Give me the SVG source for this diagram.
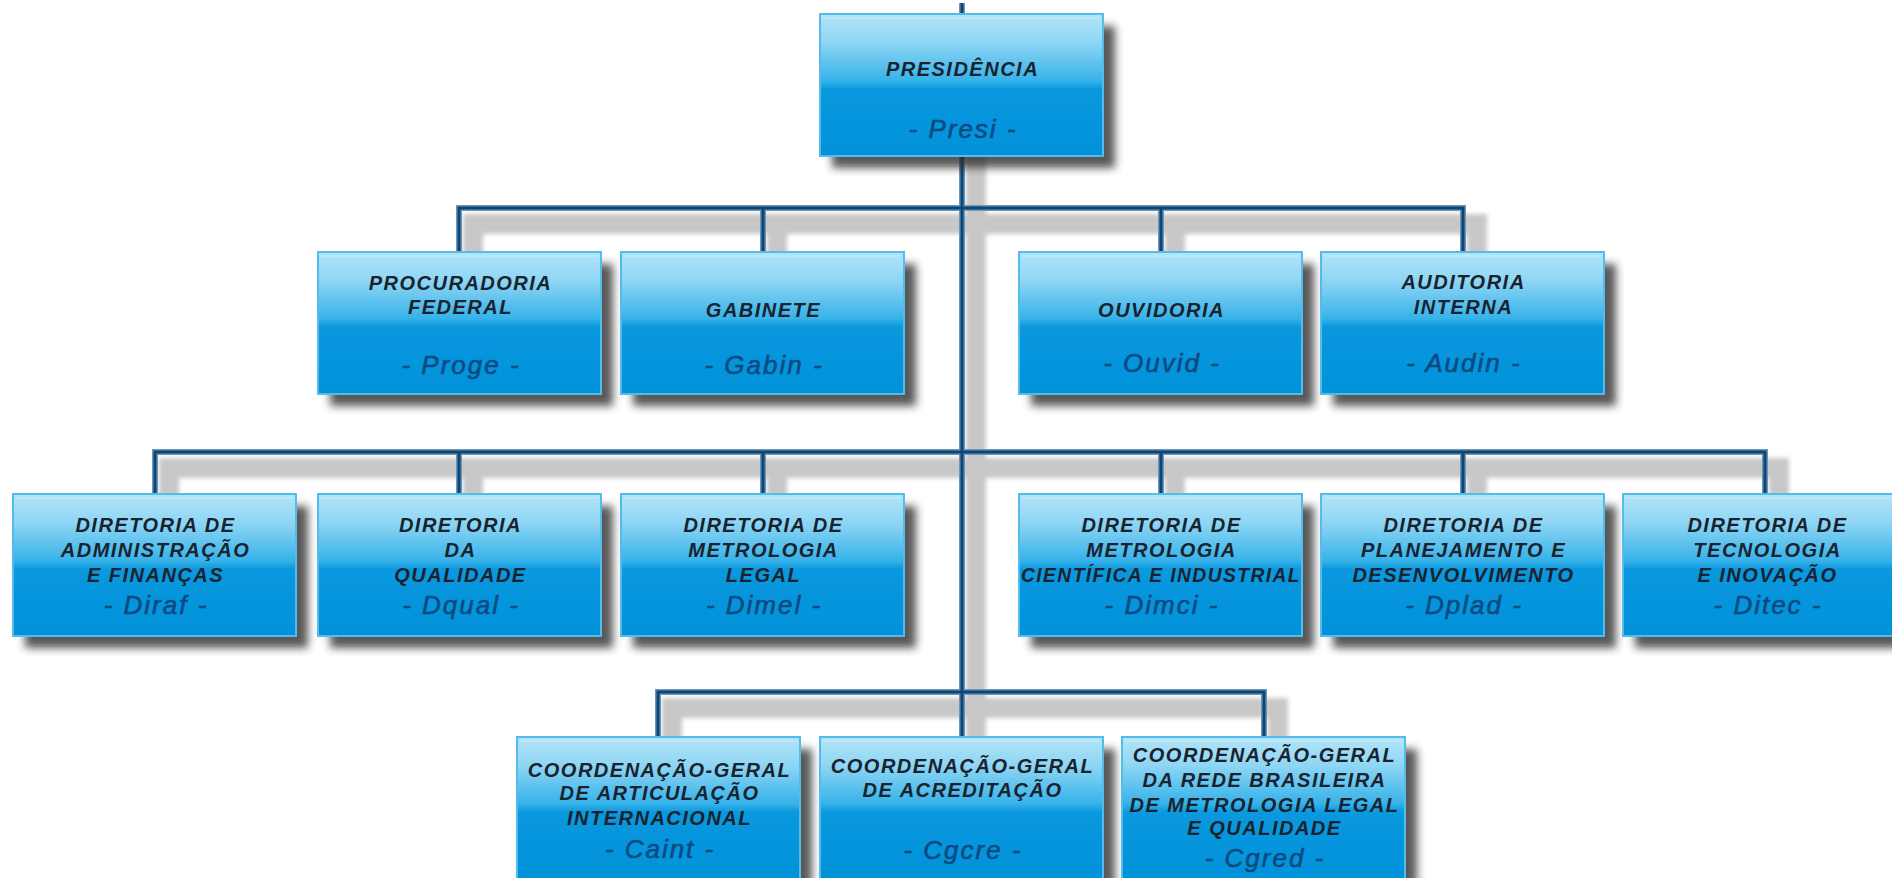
<svg xmlns="http://www.w3.org/2000/svg" width="1892" height="878" viewBox="0 0 1892 878">
<style>
.box{fill:url(#boxg);stroke:#55bbea;stroke-width:2}
.hl{fill:none;stroke:#c9ecfa;stroke-width:1.5;opacity:.8}
.shd{fill:#2e2e2e;opacity:.8;filter:url(#blur)}
.lbl{font-family:"Liberation Sans",Arial,sans-serif;font-size:20px;font-weight:bold;font-style:italic;fill:#18232f;letter-spacing:1.5px;text-anchor:middle}
.sub{font-family:"Liberation Sans",Arial,sans-serif;font-size:26px;font-style:italic;fill:#0b4a82;stroke:#0b4a82;stroke-width:0.6;letter-spacing:2px;text-anchor:middle}
.lsh{fill:none;stroke:#c8c8c8;stroke-width:20;filter:url(#lblur)}
.lout{fill:none;stroke:#6f94b4;stroke-width:6}
.lin{fill:none;stroke:#0a4677;stroke-width:3}
</style>
<defs>
<linearGradient id="boxg" x1="0" y1="0" x2="0" y2="1">
<stop offset="0" stop-color="#b2e5f9"/>
<stop offset="0.2" stop-color="#8fd6f4"/>
<stop offset="0.47" stop-color="#36b2e9"/>
<stop offset="0.53" stop-color="#0a98de"/>
<stop offset="1" stop-color="#0092da"/>
</linearGradient>
<filter id="blur" x="-10%" y="-10%" width="120%" height="130%"><feGaussianBlur stdDeviation="4.5"/></filter>
<filter id="lblur" x="-5%" y="-5%" width="110%" height="110%"><feGaussianBlur stdDeviation="2"/></filter>
</defs>
<rect width="1892" height="878" fill="#ffffff"/>

<g id="connectors">
<path class="lsh" transform="translate(14,16)" d="M962 3V737 M459 252V208H1463V252 M763 208V252 M1161 208V252 M155 494V452H1765V494 M459 452V494 M763 452V494 M1161 452V494 M1463 452V494 M658 737V692H1264V737"/>
<path class="lout" d="M962 3V737 M459 252V208H1463V252 M763 208V252 M1161 208V252 M155 494V452H1765V494 M459 452V494 M763 452V494 M1161 452V494 M1463 452V494 M658 737V692H1264V737"/>
<path class="lin" d="M962 3V737 M459 252V208H1463V252 M763 208V252 M1161 208V252 M155 494V452H1765V494 M459 452V494 M763 452V494 M1161 452V494 M1463 452V494 M658 737V692H1264V737"/>
</g>

<g id="presi">
<rect class="shd" x="832" y="26" width="283" height="142"/>
<rect class="box" x="820" y="14" width="283" height="142"/>
<line class="hl" x1="823" y1="18" x2="1100" y2="18"/>
<text class="lbl" x="962.5" y="76">PRESIDÊNCIA</text>
<text class="sub" x="963" y="137.5">- Presi -</text>
</g>

<g id="proge">
<rect class="shd" x="330" y="264" width="283" height="142"/>
<rect class="box" x="318" y="252" width="283" height="142"/>
<line class="hl" x1="321" y1="256" x2="598" y2="256"/>
<text class="lbl" x="460.5" y="290">PROCURADORIA</text>
<text class="lbl" x="460.5" y="314">FEDERAL</text>
<text class="sub" x="461" y="373.5">- Proge -</text>
</g>

<g id="gabin">
<rect class="shd" x="633" y="264" width="283" height="142"/>
<rect class="box" x="621" y="252" width="283" height="142"/>
<line class="hl" x1="624" y1="256" x2="901" y2="256"/>
<text class="lbl" x="763.5" y="317">GABINETE</text>
<text class="sub" x="764" y="373.5">- Gabin -</text>
</g>

<g id="ouvid">
<rect class="shd" x="1031" y="264" width="283" height="142"/>
<rect class="box" x="1019" y="252" width="283" height="142"/>
<line class="hl" x1="1022" y1="256" x2="1299" y2="256"/>
<text class="lbl" x="1161.5" y="317">OUVIDORIA</text>
<text class="sub" x="1162" y="372">- Ouvid -</text>
</g>

<g id="audin">
<rect class="shd" x="1333" y="264" width="283" height="142"/>
<rect class="box" x="1321" y="252" width="283" height="142"/>
<line class="hl" x1="1324" y1="256" x2="1601" y2="256"/>
<text class="lbl" x="1463.5" y="289">AUDITORIA</text>
<text class="lbl" x="1463.5" y="314">INTERNA</text>
<text class="sub" x="1464" y="372">- Audin -</text>
</g>

<g id="diraf">
<rect class="shd" x="25" y="506" width="283" height="142"/>
<rect class="box" x="13" y="494" width="283" height="142"/>
<line class="hl" x1="16" y1="498" x2="293" y2="498"/>
<text class="lbl" x="155.5" y="532">DIRETORIA DE</text>
<text class="lbl" x="155.5" y="557">ADMINISTRAÇÃO</text>
<text class="lbl" x="155.5" y="582">E FINANÇAS</text>
<text class="sub" x="156" y="614">- Diraf -</text>
</g>

<g id="dqual">
<rect class="shd" x="330" y="506" width="283" height="142"/>
<rect class="box" x="318" y="494" width="283" height="142"/>
<line class="hl" x1="321" y1="498" x2="598" y2="498"/>
<text class="lbl" x="460.5" y="532">DIRETORIA</text>
<text class="lbl" x="460.5" y="557">DA</text>
<text class="lbl" x="460.5" y="582">QUALIDADE</text>
<text class="sub" x="461" y="614">- Dqual -</text>
</g>

<g id="dimel">
<rect class="shd" x="633" y="506" width="283" height="142"/>
<rect class="box" x="621" y="494" width="283" height="142"/>
<line class="hl" x1="624" y1="498" x2="901" y2="498"/>
<text class="lbl" x="763.5" y="532">DIRETORIA DE</text>
<text class="lbl" x="763.5" y="557">METROLOGIA</text>
<text class="lbl" x="763.5" y="582">LEGAL</text>
<text class="sub" x="764" y="614">- Dimel -</text>
</g>

<g id="dimci">
<rect class="shd" x="1031" y="506" width="283" height="142"/>
<rect class="box" x="1019" y="494" width="283" height="142"/>
<line class="hl" x1="1022" y1="498" x2="1299" y2="498"/>
<text class="lbl" x="1161.5" y="532">DIRETORIA DE</text>
<text class="lbl" x="1161.5" y="557">METROLOGIA</text>
<text class="lbl" x="1161" y="582" textLength="280" lengthAdjust="spacingAndGlyphs">CIENTÍFICA E INDUSTRIAL</text>
<text class="sub" x="1162" y="614">- Dimci -</text>
</g>

<g id="dplad">
<rect class="shd" x="1333" y="506" width="283" height="142"/>
<rect class="box" x="1321" y="494" width="283" height="142"/>
<line class="hl" x1="1324" y1="498" x2="1601" y2="498"/>
<text class="lbl" x="1463.5" y="532">DIRETORIA DE</text>
<text class="lbl" x="1463.5" y="557">PLANEJAMENTO E</text>
<text class="lbl" x="1463.5" y="582">DESENVOLVIMENTO</text>
<text class="sub" x="1464" y="614">- Dplad -</text>
</g>

<g id="ditec">
<rect class="shd" x="1635" y="506" width="283" height="142"/>
<rect class="box" x="1623" y="494" width="283" height="142"/>
<line class="hl" x1="1626" y1="498" x2="1903" y2="498"/>
<text class="lbl" x="1767.5" y="532">DIRETORIA DE</text>
<text class="lbl" x="1767.5" y="557">TECNOLOGIA</text>
<text class="lbl" x="1767.5" y="582">E INOVAÇÃO</text>
<text class="sub" x="1768" y="614">- Ditec -</text>
</g>

<g id="caint">
<rect class="shd" x="529" y="749" width="283" height="142"/>
<rect class="box" x="517" y="737" width="283" height="142"/>
<line class="hl" x1="520" y1="741" x2="797" y2="741"/>
<text class="lbl" x="659.5" y="777">COORDENAÇÃO-GERAL</text>
<text class="lbl" x="659.5" y="800">DE ARTICULAÇÃO</text>
<text class="lbl" x="659.5" y="825">INTERNACIONAL</text>
<text class="sub" x="660" y="857.5">- Caint -</text>
</g>

<g id="cgcre">
<rect class="shd" x="832" y="749" width="283" height="142"/>
<rect class="box" x="820" y="737" width="283" height="142"/>
<line class="hl" x1="823" y1="741" x2="1100" y2="741"/>
<text class="lbl" x="962.5" y="773">COORDENAÇÃO-GERAL</text>
<text class="lbl" x="962.5" y="797">DE ACREDITAÇÃO</text>
<text class="sub" x="963" y="859">- Cgcre -</text>
</g>

<g id="cgred">
<rect class="shd" x="1134" y="749" width="283" height="142"/>
<rect class="box" x="1122" y="737" width="283" height="142"/>
<line class="hl" x1="1125" y1="741" x2="1402" y2="741"/>
<text class="lbl" x="1264.5" y="762">COORDENAÇÃO-GERAL</text>
<text class="lbl" x="1264.5" y="787">DA REDE BRASILEIRA</text>
<text class="lbl" x="1264.5" y="812">DE METROLOGIA LEGAL</text>
<text class="lbl" x="1264.5" y="835">E QUALIDADE</text>
<text class="sub" x="1265" y="867">- Cgred -</text>
</g>
</svg>
